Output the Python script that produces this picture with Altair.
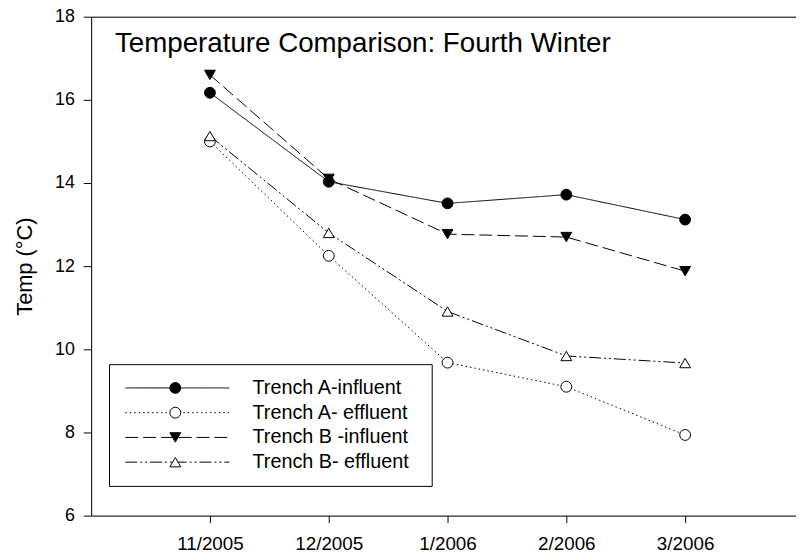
import altair as alt
import pandas as pd

months = ["11/2005", "12/2005", "1/2006", "2/2006", "3/2006"]
series_names = ["Trench A-influent", "Trench A- effluent", "Trench B -influent", "Trench B- effluent"]
a_influent = [16.17, 14.03, 13.51, 13.72, 13.12]
a_effluent = [15.00, 12.25, 9.68, 9.10, 7.94]
b_influent = [16.60, 14.10, 12.77, 12.70, 11.88]
b_effluent = [15.13, 12.80, 10.91, 9.84, 9.67]
y_ticks = [6, 8, 10, 12, 14, 16, 18]
marker_shapes = ["circle", "circle", "triangle-down", "triangle-up"]
marker_fills = ["black", "white", "black", "white"]
line_dashes = [[1, 0], [1.5, 3], [13, 5], [12, 3, 2, 3, 2, 3]]

rows = []
for name, vals in zip(series_names, [a_influent, a_effluent, b_influent, b_effluent]):
    for m, v in zip(months, vals):
        rows.append({"month": m, "temp": v, "series": name, "series_m": name})
df = pd.DataFrame(rows)

FONT = "Liberation Sans"

x_scale = alt.Scale(type="point", padding=1, range=[0, 720])
y_scale = alt.Scale(domain=[6, 18], nice=False, zero=False)
y_axis = alt.Axis(title="Temp (°C)", values=y_ticks, grid=False, tickSize=8, labelPadding=9,
                  domainColor="black", tickColor="black", labelColor="black",
                  labelFont=FONT, labelFontSize=18, titleFont=FONT, titleFontSize=22,
                  titleFontWeight="normal", titleColor="black", titlePadding=18)

base = alt.Chart(df)

lines = base.mark_line(color="black", strokeWidth=1).encode(
    x=alt.X("month:N", sort=months, scale=x_scale,
            axis=alt.Axis(orient="bottom", title=None, labelAngle=0, tickSize=7, labelPadding=12,
                          domainColor="black", tickColor="black", labelColor="black",
                          labelFont=FONT, labelFontSize=19, grid=False)),
    y=alt.Y("temp:Q", scale=y_scale, axis=y_axis),
    strokeDash=alt.StrokeDash(
        "series:N", sort=series_names,
        scale=alt.Scale(range=line_dashes),
        legend=alt.Legend(title="\u00a0", titleOrient="right", titleFontSize=2, titlePadding=9,
                          orient="none", legendX=18, legendY=351, padding=14,
                          strokeColor="black", fillColor="white",
                          symbolType="M-10.5,0H10.5", symbolSize=100, symbolStrokeWidth=1,
                          symbolStrokeColor="black", symbolOffset=45, labelOffset=66,
                          labelFont=FONT, labelFontSize=20, labelColor="black", labelLimit=400,
                          rowPadding=5, zindex=0)),
    detail="series:N",
)

filled_names = [n for n, f in zip(series_names, marker_fills) if f == "black"]
fill_expr = "indexof([" + ",".join("'" + n + "'" for n in filled_names) + "], datum.value) >= 0 ? 'black' : 'white'"

pt_legend = alt.Legend(title=None, orient="none", legendX=75, legendY=365, padding=0,
                       symbolSize=120, symbolStrokeColor="black", symbolStrokeWidth=1,
                       symbolFillColor={"expr": fill_expr}, symbolOpacity=1,
                       labelExpr="' '", labelFont=FONT, labelFontSize=20, rowPadding=5, zindex=1)

points = base.mark_point(filled=True, size=120, stroke="black", strokeWidth=1, opacity=1).encode(
    x=alt.X("month:N", sort=months, scale=x_scale,
            axis=alt.Axis(orient="top", title=None, labels=False, ticks=False,
                          domainColor="black", grid=False)),
    y=alt.Y("temp:Q", scale=y_scale, axis=y_axis),
    shape=alt.Shape("series_m:N", sort=series_names,
                    scale=alt.Scale(range=marker_shapes), legend=pt_legend),
    fill=alt.Fill("series_m:N", sort=series_names,
                  scale=alt.Scale(range=marker_fills), legend=None),
)

chart = alt.layer(lines, points).resolve_axis(x="independent").properties(
    width=712, height=504,
    autosize=alt.AutoSizeParams(type="none"),
    padding={"left": 84, "top": 6, "right": 0, "bottom": 38},
    title=alt.TitleParams("Temperature Comparison: Fourth Winter", anchor="start", frame="group",
                          dx=24, dy=34, offset=-39, baseline="alphabetic", fontSize=28, font=FONT,
                          fontWeight="normal", color="black"),
).configure_view(stroke=None).configure(background="white")

chart.save("out.html", embed_options={"renderer": "svg", "actions": False})
